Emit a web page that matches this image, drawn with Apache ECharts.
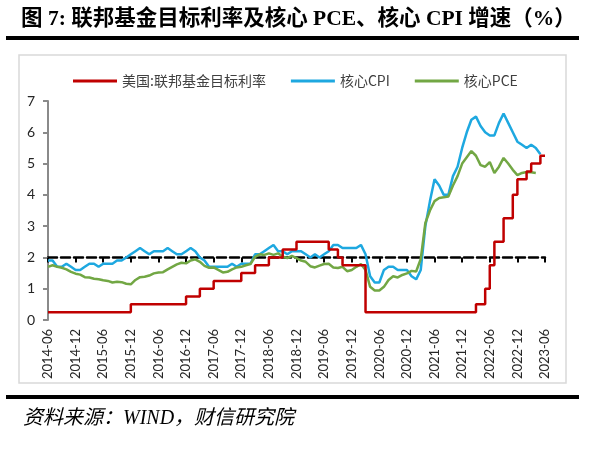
<!DOCTYPE html>
<html><head><meta charset="utf-8">
<script src="https://cdn.jsdelivr.net/npm/echarts@6/dist/echarts.min.js"></script>
<style>html,body{margin:0;padding:0;background:#fff}#c{width:600px;height:453px}</style>
</head><body><div id="c"></div>
<script>
// months 2014-06 .. 2023-06
const months = [];
for (let y = 2014, m = 6; y < 2023 || (y === 2023 && m <= 6); ) {
  months.push(y + '-' + String(m).padStart(2, '0'));
  m++; if (m > 12) { m = 1; y++; }
}
const seriesNames = ['美国:联邦基金目标利率', '核心CPI', '核心PCE'];
const fedRate = [
  0.25,0.25,0.25,0.25,0.25,0.25,0.25,
  0.25,0.25,0.25,0.25,0.25,0.25,0.25,0.25,0.25,0.25,0.25,0.5,
  0.5,0.5,0.5,0.5,0.5,0.5,0.5,0.5,0.5,0.5,0.5,0.75,
  0.75,0.75,1.0,1.0,1.0,1.25,1.25,1.25,1.25,1.25,1.25,1.5,
  1.5,1.5,1.75,1.75,1.75,2.0,2.0,2.0,2.25,2.25,2.25,2.5,
  2.5,2.5,2.5,2.5,2.5,2.5,2.25,2.25,2.0,1.75,1.75,1.75,
  1.75,1.75,0.25,0.25,0.25,0.25,0.25,0.25,0.25,0.25,0.25,0.25,
  0.25,0.25,0.25,0.25,0.25,0.25,0.25,0.25,0.25,0.25,0.25,0.25,
  0.25,0.25,0.5,0.5,1.0,1.75,2.5,2.5,3.25,3.25,4.0,4.5,
  4.5,4.75,5.0,5.0,5.25,5.25
];
const coreCPI = [
  1.9,1.9,1.7,1.7,1.8,1.7,1.6,
  1.6,1.7,1.8,1.8,1.7,1.8,1.8,1.8,1.9,1.9,2.0,2.1,
  2.2,2.3,2.2,2.1,2.2,2.2,2.2,2.3,2.2,2.1,2.1,2.2,
  2.3,2.2,2.0,1.9,1.7,1.7,1.7,1.7,1.7,1.8,1.7,1.8,
  1.8,1.8,2.1,2.1,2.2,2.3,2.4,2.2,2.2,2.1,2.2,2.2,
  2.2,2.1,2.0,2.1,2.0,2.1,2.2,2.4,2.4,2.3,2.3,2.3,
  2.3,2.4,2.1,1.4,1.2,1.2,1.6,1.7,1.7,1.6,1.6,1.6,
  1.4,1.3,1.6,3.0,3.8,4.5,4.3,4.0,4.0,4.6,4.9,5.5,
  6.0,6.4,6.5,6.2,6.0,5.9,5.9,6.3,6.6,6.3,6.0,5.7,
  5.6,5.5,5.6,5.5,5.3,null
];
const corePCE = [
  1.70,1.75,1.70,1.67,1.62,1.54,1.48,
  1.45,1.37,1.36,1.32,1.30,1.27,1.25,1.20,1.22,1.21,1.16,1.14,
  1.28,1.37,1.38,1.42,1.49,1.52,1.53,1.62,1.70,1.78,1.83,1.81,
  1.90,1.94,1.86,1.73,1.67,1.68,1.60,1.52,1.54,1.62,1.68,1.70,
  1.75,1.79,2.02,2.10,2.08,2.13,2.08,2.13,2.02,1.98,2.05,1.98,
  1.90,1.86,1.72,1.68,1.74,1.79,1.80,1.68,1.66,1.70,1.56,1.60,
  1.70,1.79,1.60,1.06,0.94,0.94,1.06,1.28,1.40,1.36,1.44,1.49,
  1.57,1.55,1.95,3.10,3.50,3.80,3.90,3.92,3.95,4.30,4.60,5.00,
  5.20,5.40,5.25,4.95,4.90,5.05,4.70,4.90,5.18,5.00,4.80,4.63,
  4.70,4.73,4.72,4.70,null,null
];
const yTicks = [0,1,2,3,4,5,6,7];
const refLevel = 2;

const chart = echarts.init(document.getElementById('c'));
const gridTop = 101, gridBottom = 133, gridH = 453 - gridTop - gridBottom;
const yMax = yTicks[yTicks.length - 1];
chart.setOption({
  animation: false,
  color: ['#C00000', '#1EA8E0', '#72A744'],
  graphic: [
    { type: 'text', left: 21, top: 9, style: { text: '图 7: 联邦基金目标利率及核心 PCE、核心 CPI 增速（%）', font: 'bold 21.5px "Liberation Serif", "Noto Sans CJK SC"', fill: '#000' } },
    { type: 'rect', shape: { x: 6, y: 36, width: 573, height: 4 }, style: { fill: '#000' } },
    { type: 'rect', shape: { x: 19, y: 55, width: 547, height: 328 }, style: { fill: 'none', stroke: '#d9d9d9', lineWidth: 1.5 }, z: -1 },
    { type: 'rect', shape: { x: 6, y: 395, width: 573, height: 4 }, style: { fill: '#000' } },
    { type: 'text', left: 23, top: 409, style: { text: '资料来源：WIND，财信研究院', font: 'italic 20px "Liberation Serif", "Noto Sans CJK SC"', fill: '#000' } }
  ],
  legend: {
    data: seriesNames, left: 68, top: 69, icon: 'rect', itemWidth: 44, itemHeight: 3, itemGap: 25,
    textStyle: { fontSize: 14, color: '#404040', fontFamily: '"Noto Sans CJK SC"' }
  },
  grid: { left: 48, right: 55, top: gridTop, bottom: gridBottom, containLabel: false },
  xAxis: [
    { type: 'category', data: months, boundaryGap: false,
      axisLine: { show: false }, axisTick: { show: false },
      axisLabel: { interval: 5, rotate: 90, margin: 9, fontSize: 13, color: '#262626', fontFamily: 'Lato' } },
    { type: 'category', data: months, boundaryGap: false, position: 'bottom',
      offset: -gridH * refLevel / yMax,
      axisLine: { show: true, lineStyle: { color: '#000', width: 2.5, type: [9, 4] } },
      axisTick: { show: true, interval: 5, length: 5, lineStyle: { color: '#000', width: 2 } },
      axisLabel: { show: false } }
  ],
  yAxis: {
    type: 'value', min: 0, max: yMax, interval: 1,
    axisLine: { show: true, lineStyle: { color: '#8a8a8a', width: 2 } },
    axisTick: { show: true, length: 5, lineStyle: { color: '#8a8a8a', width: 2 } },
    splitLine: { show: false },
    axisLabel: { margin: 13, fontSize: 14, color: '#262626', fontFamily: 'Lato' }
  },
  series: [
    { name: seriesNames[0], type: 'line', data: fedRate, step: 'end', showSymbol: false, symbol: 'none', lineStyle: { width: 2.5 }, z: 4 },
    { name: seriesNames[1], type: 'line', data: coreCPI, showSymbol: false, symbol: 'none', lineStyle: { width: 2.5 }, z: 2 },
    { name: seriesNames[2], type: 'line', data: corePCE, showSymbol: false, symbol: 'none', lineStyle: { width: 2.5 }, z: 3 }
  ]
});
</script></body></html>
